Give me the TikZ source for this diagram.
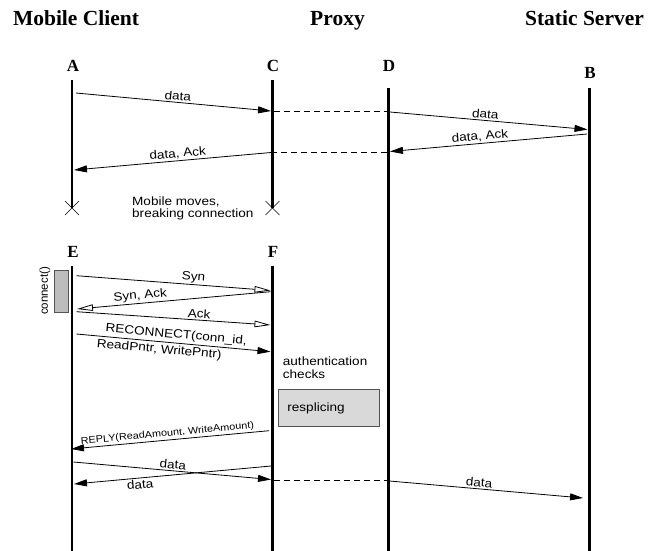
\documentclass[tikz,border=0pt]{standalone}
\usepackage{fontspec}
\setmainfont{Liberation Serif}
\newfontfamily\lblfont[FakeStretch=1.13]{Liberation Sans}
\newfontfamily\plainsans{Liberation Sans}
\usetikzlibrary{arrows.meta}

\definecolor{boxedge}{gray}{0.33}
\definecolor{connfill}{gray}{0.74}
\definecolor{splicefill}{gray}{0.85}

\begin{document}
\begin{tikzpicture}[x=1pt,y=-1pt,
  lifeline/.style={line width=2.6pt},
  msg/.style={line width=0.8pt,-{Triangle[length=13pt,width=7pt]}},
  synmsg/.style={line width=0.8pt,-{Triangle[open,length=16pt,width=6.5pt,line width=0.8pt]}},
  relay/.style={line width=0.8pt,dash pattern=on 6pt off 4pt},
  cut/.style={line width=0.6pt},
  role/.style={font=\fontsize{21.5}{24}\selectfont\bfseries,anchor=base,inner sep=0pt},
  endpt/.style={font=\fontsize{17}{20}\selectfont\bfseries,anchor=base,inner sep=0pt},
  lbl/.style={font=\lblfont\fontsize{12}{12.5}\selectfont,inner sep=1.5pt},
  smalllbl/.style={font=\lblfont\fontsize{9.6}{11}\selectfont,inner sep=1.5pt},
  note/.style={font=\lblfont\fontsize{12}{12.5}\selectfont,align=left,inner sep=0pt,anchor=north west},
  graybox/.style={draw=boxedge,line width=0.8pt},
]
\useasboundingbox (0,0) rectangle (648,550);

% column headings
\node[role] (hclient) at (76,25) {Mobile Client};
\node[role] (hproxy) at (337.5,25) {Proxy};
\node[role] (hserver) at (584.5,25) {Static Server};

% endpoint names
\node[endpt] (nA) at (73,71) {A};
\node[endpt] (nC) at (273,71) {C};
\node[endpt] (nD) at (389,71) {D};
\node[endpt] (nB) at (590,78) {B};
\node[endpt] (nE) at (73,257) {E};
\node[endpt] (nF) at (273,257) {F};

% lifelines
\coordinate (Atop) at (72,80);    \coordinate (Abot) at (72,208);
\coordinate (Ctop) at (272.5,80); \coordinate (Cbot) at (272.5,208);
\coordinate (Dtop) at (388.5,88); \coordinate (Dbot) at (388.5,551);
\coordinate (Btop) at (589.5,88); \coordinate (Bbot) at (589.5,551);
\coordinate (Etop) at (72,266);   \coordinate (Ebot) at (72,551);
\coordinate (Ftop) at (272.5,266);\coordinate (Fbot) at (272.5,551);
\draw[lifeline] (Atop) -- (Abot);
\draw[lifeline] (Ctop) -- (Cbot);
\draw[lifeline] (Dtop) -- (Dbot);
\draw[lifeline] (Btop) -- (Bbot);
\draw[lifeline] (Etop) -- (Ebot);
\draw[lifeline] (Ftop) -- (Fbot);

% broken connection marks
\draw[cut,shift={(Abot)}] (-7,-7) -- (7,7) (-7,7) -- (7,-7);
\draw[cut,shift={(Cbot)}] (-7,-7) -- (7,7) (-7,7) -- (7,-7);

% first connection: client -> proxy -> server
\coordinate (m1s) at (76,93);    \coordinate (m1e) at (271,111);
\coordinate (r1s) at (274,111);  \coordinate (r1e) at (387,111);
\coordinate (m2s) at (390,112);  \coordinate (m2e) at (587.5,129.5);
\draw[msg] (m1s) -- node[lbl,above,sloped,pos=.52] (l1) {data} (m1e);
\draw[relay] (r1s) -- (r1e);
\draw[msg] (m2s) -- node[lbl,above,sloped,pos=.48] (l2) {data} (m2e);

% replies: server -> proxy -> client
\coordinate (m3s) at (587,134);  \coordinate (m3e) at (390,151.5);
\coordinate (r2s) at (387,152);  \coordinate (r2e) at (274,152);
\coordinate (m4s) at (271,152.5);\coordinate (m4e) at (74,170);
\draw[msg] (m3s) -- node[lbl,above,sloped,pos=.54] (l3) {data, Ack} (m3e);
\draw[relay] (r2s) -- (r2e);
\draw[msg] (m4s) -- node[lbl,above,sloped,pos=.47] (l4) {data, Ack} (m4e);

\node[note] (moves) at (132,196.5) {Mobile moves,\\breaking connection};

% reconnection handshake
\node[graybox,fill=connfill,minimum width=13.5pt,minimum height=41.7pt,inner sep=0pt,anchor=north west] (conn) at (54,270) {};
\node[font=\plainsans\fontsize{11.5}{13}\selectfont,rotate=90,inner sep=0pt] (connlbl) at (45,291) {connect()};

\coordinate (s1s) at (76.5,275.7); \coordinate (s1e) at (270.5,290.5);
\coordinate (s2s) at (270.5,291.7);\coordinate (s2e) at (77,309);
\coordinate (s3s) at (76.5,311.7); \coordinate (s3e) at (270.5,325);
\draw[synmsg] (s1s) -- node[lbl,above,sloped,pos=.60] (l5) {Syn} (s1e);
\draw[synmsg] (s2s) -- node[lbl,above,sloped,pos=.67] (l6) {Syn, Ack} (s2e);
\draw[synmsg] (s3s) -- node[lbl,above,sloped,pos=.63] (l7) {Ack} (s3e);

\coordinate (rcs) at (76.5,334); \coordinate (rce) at (270.5,351.7);
\draw[msg] (rcs) -- node[lbl,above,sloped,pos=.51,inner ysep=2pt] (l8) {RECONNECT(conn\_id,}
                   node[lbl,below,sloped,pos=.43,inner ysep=2.2pt] (l9) {ReadPntr, WritePntr)} (rce);

\node[note] (auth) at (282.7,357) {authentication\\checks};
\node[graybox,fill=splicefill,minimum width=101pt,minimum height=37pt,text width=83pt,inner xsep=9pt,inner ysep=0pt,anchor=north west,align=left,font=\lblfont\fontsize{12}{12.5}\selectfont] (splice) at (278,389) {resplicing};

\coordinate (rps) at (269,430.7); \coordinate (rpe) at (71,449);
\draw[msg] (rps) -- node[smalllbl,above,sloped,pos=.51] (l10) {REPLY(ReadAmount, WriteAmount)} (rpe);

% data flowing over the new connection
\coordinate (d1s) at (73.5,462);  \coordinate (d1e) at (271,479.5);
\coordinate (d2s) at (271,466);   \coordinate (d2e) at (74,484);
\coordinate (r3s) at (274,480);   \coordinate (r3e) at (387,480);
\coordinate (d3s) at (389.5,481); \coordinate (d3e) at (583,498);
\draw[msg] (d1s) -- node[lbl,above,sloped,pos=.50] (l11) {data} (d1e);
\draw[msg] (d2s) -- node[lbl,below,sloped,pos=.667] (l12) {data} (d2e);
\draw[relay] (r3s) -- (r3e);
\draw[msg] (d3s) -- node[lbl,above,sloped,pos=.46] (l13) {data} (d3e);
\end{tikzpicture}
\end{document}
